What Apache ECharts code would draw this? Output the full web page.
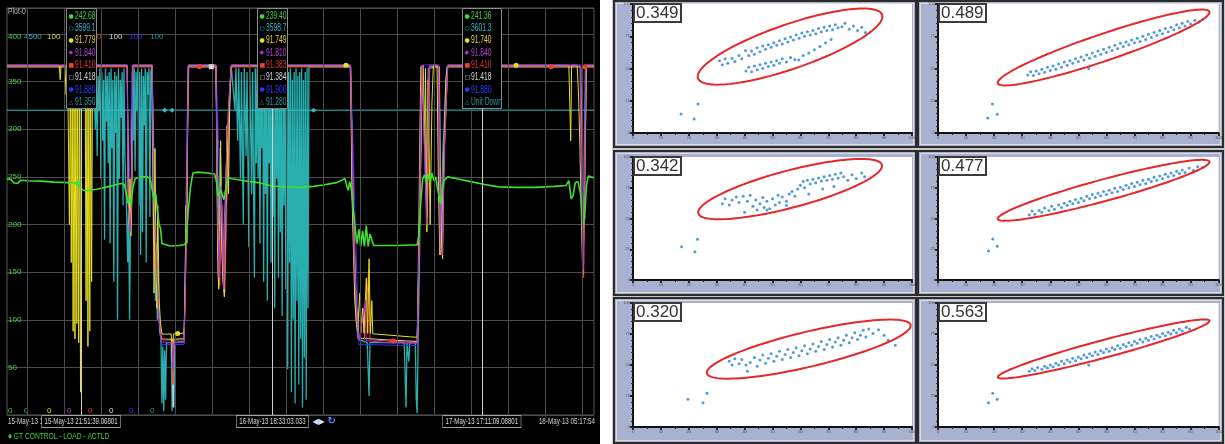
<!DOCTYPE html>
<html><head><meta charset="utf-8">
<script src="https://cdn.jsdelivr.net/npm/echarts@6/dist/echarts.min.js"></script>
<style>
html,body{margin:0;padding:0;background:#fff;}
#wrap{position:relative;width:1225px;height:444px;overflow:hidden;}
#left{position:absolute;left:0;top:0;width:600px;height:444px;}
#right{position:absolute;left:600px;top:0;width:625px;height:444px;}
</style></head><body>
<div id="wrap"><div id="left"></div><div id="right"></div></div>
<script>
// ===================== DATA: trend plot (x = hours since 15-May-13 00:00) =====================
const startHour = 13.85, endHour = 77.32;
const gridHours = [16,20,24,28,32,36,40,44,48,52,56,60,64,68,72,76];
const cursorHours = [21.86, 42.55, 65.19];
const cursorLabels = ['15-May-13 21:51:39.06801','16-May-13 18:33:03.033','17-May-13 17:11:09.08801'];
const startLabel = '15-May-13 1';
const endLabel = '18-May-13 05:17:54';
const plotTitle = 'Plot-0';
const legendLabel = 'GT CONTROL - LOAD - ACTLD';
const scaleMax = [400, 4500, 100, 100, 100, 100, 100, 100];
const boxSymbols = ['●','○','●','◆','■','□','●','△'];
const boxValues1 = ['242.68','3599.1','91.779','91.840','91.410','91.418','91.880','91.350'];
const boxValues2 = ['239.40','3598.7','91.749','91.810','91.383','91.384','91.900','91.280'];
const boxValues3 = ['241.36','3601.3','91.740','91.840','91.410','91.418','91.880','Unit Down'];

const loadActld = [[13.85,248],[14.3,247],[14.6,243.5],[15.0,243],[15.3,246.5],[16,246],[17.5,245.5],[19,244.5],[20.5,244],[21.4,243.5],[21.6,242],[21.8,238],[22.1,236],[22.5,235.5],[23.5,237],[24.5,239],[25.5,241.5],[26.2,243],[26.55,242],[26.8,230],[26.95,222],[27.1,228],[27.25,221],[27.45,238],[27.7,248],[28.3,250],[29.0,250],[29.35,248],[29.55,236],[29.75,227],[29.95,232],[30.1,215],[30.3,200],[30.45,196],[30.6,180],[30.8,178],[31.5,177.5],[32.5,178],[33.1,179],[33.25,185],[33.45,215],[33.7,240],[33.95,254],[34.5,255],[35.5,254],[36.3,253],[36.5,245],[36.65,230],[36.85,228],[37.0,236],[37.3,226],[37.55,240],[37.8,249],[38.2,248],[39.5,246],[41,244],[42.5,240.5],[44,239.5],[45.5,239],[47,240],[48,241.5],[49.5,244],[50.4,248],[50.6,240],[50.75,236],[50.9,245],[51.1,236],[51.3,215],[51.5,195],[51.7,180],[51.9,195],[52.1,177],[52.3,193],[52.5,177],[52.7,199],[52.9,177],[53.1,190],[53.5,178],[54.5,178],[56,178],[57.5,178.5],[58.2,178.5],[58.4,190],[58.6,225],[58.8,248],[59.0,252],[59.2,245],[59.4,253],[59.6,244],[59.8,254],[60.0,246],[60.2,250],[60.4,238],[60.6,228],[60.75,222],[60.9,235],[61.1,246],[61.5,250],[62.5,248],[64,245],[65.5,242],[67,239.5],[69,239],[71,239],[73,240],[74.3,241],[74.6,246],[74.85,227],[75.05,230],[75.3,244],[75.6,245],[75.9,230],[76.1,200],[76.3,206],[76.5,240],[76.7,251],[77.0,250],[77.32,249]];

const speedRef = [[13.85,3600],[21.86,3599],[30,3602],[42.55,3599],[55,3601],[65.19,3601],[77.32,3600]];

const yellowTrend = [[13.85,91.78],[19.5,91.78],[19.6,88],[19.7,91.78],[20.1,91.78],[20.25,84],[20.4,91.78],[20.5,91.5],[20.6,50],[20.7,91],[20.8,40],[20.9,90],[21.0,22],[21.1,91],[21.2,20],[21.3,89],[21.4,24],[21.5,91],[21.6,19],[21.7,90],[21.8,6],[21.9,91.5],[22.3,91.78],[22.4,30],[22.5,90],[22.6,18],[22.7,91],[22.8,22],[22.9,89],[23.0,35],[23.1,91.78],[26.85,91.78],[26.95,58],[27.05,50],[27.15,62],[27.25,47],[27.35,56],[27.45,91.78],[29.55,91.78],[29.65,62],[29.75,32],[29.85,70],[29.95,42],[30.05,28],[30.15,55],[30.3,30],[30.45,24],[30.6,21.3],[31.0,21.2],[31.6,21.3],[31.72,14],[31.85,21.2],[32.5,21.4],[33.0,21.5],[33.1,32],[33.2,55],[33.3,45],[33.4,80],[33.5,91.78],[36.45,91.78],[36.55,62],[36.65,38],[36.75,33],[36.85,52],[36.95,72],[37.05,46],[37.2,35],[37.35,31],[37.5,56],[37.65,76],[37.8,58],[37.95,86],[38.1,91.78],[50.95,91.78],[51.05,82],[51.15,58],[51.3,44],[51.45,30],[51.6,25],[51.75,22],[51.9,21.6],[52.0,32],[52.1,21.5],[52.3,28],[52.45,21.5],[52.7,36],[52.85,21.4],[53.0,41],[53.15,21.4],[53.3,30],[53.4,21.3],[54.5,21.1],[56.0,20.8],[57.5,20.5],[58.2,20.4],[58.3,34],[58.4,55],[58.5,75],[58.6,91.5],[58.85,91.78],[59.0,70],[59.1,91],[59.25,48],[59.4,88],[59.6,50],[59.8,82],[59.95,91.78],[60.35,91.78],[60.5,60],[60.65,42],[60.8,46],[60.95,41],[61.1,70],[61.3,88],[61.5,91.78],[74.6,91.78],[74.7,82],[74.8,72],[74.9,91.78],[75.5,91.78],[75.65,84],[75.8,70],[75.95,52],[76.1,37],[76.2,46],[76.35,72],[76.5,91.78],[77.32,91.78]];

const purpleTrend = [[13.85,91.84],[26.85,91.84],[26.95,55],[27.15,48],[27.35,58],[27.45,91.84],[29.55,91.84],[29.7,60],[29.9,45],[30.1,35],[30.3,25],[30.5,19.2],[31.7,19],[31.8,12],[31.9,19],[33.0,19],[33.15,35],[33.3,60],[33.45,91.84],[36.45,91.84],[36.6,55],[36.8,36],[37.0,60],[37.3,33],[37.6,70],[37.9,85],[38.1,91.84],[51.0,91.84],[51.2,65],[51.4,40],[51.7,25],[51.9,19.5],[52.6,30],[52.7,19.5],[55,19],[58.2,18.8],[58.4,45],[58.6,80],[58.75,91.84],[59.2,50],[59.5,91.84],[60.5,91.84],[60.7,44],[60.9,42],[61.2,75],[61.5,91.84],[75.8,91.84],[76.0,55],[76.15,38],[76.3,65],[76.45,91.84],[77.32,91.84]];

const redTrend = [[13.85,91.41],[26.85,91.41],[26.95,62],[27.1,50],[27.3,55],[27.45,91.41],[29.55,91.41],[29.75,50],[29.95,38],[30.15,30],[30.35,24],[30.55,19.8],[31.7,19.6],[31.8,8],[31.9,19.6],[33.0,19.8],[33.2,40],[33.35,70],[33.5,91.41],[36.45,91.41],[36.65,48],[36.85,34],[37.1,55],[37.4,32],[37.7,65],[38.0,88],[38.15,91.41],[51.0,91.41],[51.25,60],[51.5,35],[51.8,21],[52.0,19.8],[52.4,28],[52.5,19.8],[52.95,38],[53.1,19.8],[55,19.4],[58.2,19.0],[58.45,50],[58.65,85],[58.8,91.41],[59.3,52],[59.55,91.41],[60.55,91.41],[60.75,42],[60.95,46],[61.2,72],[61.5,91.41],[75.85,91.41],[76.05,50],[76.2,36],[76.35,60],[76.5,91.41],[77.32,91.41]];

const whiteTrend = [[13.85,91.42],[26.85,91.42],[27.0,58],[27.3,52],[27.45,91.42],[29.55,91.42],[29.8,48],[30.1,32],[30.4,22],[30.6,19.9],[31.75,19.9],[31.82,2],[31.9,19.9],[33.0,20],[33.25,50],[33.45,91.42],[36.45,91.42],[36.7,42],[37.0,55],[37.35,35],[37.8,75],[38.1,91.42],[51.0,91.42],[51.3,55],[51.6,30],[51.9,20.2],[55,19.7],[58.2,19.3],[58.5,55],[58.75,91.42],[59.3,54],[59.55,91.42],[60.6,91.42],[60.8,43],[61.1,68],[61.5,91.42],[75.85,91.42],[76.1,45],[76.3,58],[76.5,91.42],[77.32,91.42]];

const blueTrend = [[13.85,91.88],[26.85,91.88],[27.0,55],[27.4,91.88],[29.55,91.88],[30.0,40],[30.5,18.5],[33.0,18.5],[33.45,91.88],[36.45,91.88],[37.2,35],[38.1,91.88],[51.0,91.88],[51.9,18.5],[58.2,18.2],[58.75,91.88],[60.5,91.88],[60.7,45],[61.5,91.88],[75.85,91.88],[76.1,45],[76.5,91.88],[77.32,91.88]];

const tealUnitDown = [[13.85,91.35],[23.2,91.35],[23.3,91.3],[23.4,75],[23.5,90],[23.6,68],[23.7,89],[23.8,80],[23.9,91],[24.0,62],[24.1,90],[24.2,72],[24.3,88],[24.4,46],[24.5,91],[24.6,77],[24.7,89],[24.8,66],[24.9,90],[25.0,45],[25.1,91],[25.2,70],[25.3,88],[25.4,35],[25.5,90],[25.6,74],[25.7,89],[25.8,25],[25.9,91],[26.0,62],[26.1,88],[26.2,78],[26.3,90],[26.4,55],[26.5,91],[26.6,68],[26.7,60],[26.8,52],[26.9,40],[27.0,55],[27.1,25],[27.2,50],[27.3,58],[27.4,90],[27.5,72],[27.6,91],[27.7,64],[27.8,90],[27.9,80],[28.0,91],[28.1,55],[28.2,90],[28.3,42],[28.4,91],[28.5,48],[28.6,89],[28.7,76],[28.8,91],[28.9,40],[29.0,90],[29.1,84],[29.2,91],[29.3,52],[29.4,90],[29.5,91.3],[29.6,70],[29.7,45],[29.8,60],[29.9,30],[30.0,45],[30.1,25],[30.2,38],[30.35,22],[30.5,20],[30.6,3],[30.7,18],[30.8,1],[30.9,17],[31.0,4],[31.1,19],[31.6,19],[31.7,1],[31.8,18],[31.9,2],[32.0,19],[32.5,19.2],[33.0,19.3],[33.15,40],[33.3,70],[33.45,91.35],[36.45,91.35],[36.7,50],[36.9,70],[37.2,40],[37.5,60],[37.8,80],[38.1,91.35],[38.3,91.3],[38.5,80],[38.6,91],[38.8,72],[38.9,91],[39.1,62],[39.2,90],[39.4,50],[39.5,91],[39.7,68],[39.8,90],[40.0,44],[40.1,91],[40.3,58],[40.4,90],[40.6,36],[40.7,91],[40.8,66],[40.9,91],[41.0,62],[41.1,90],[41.2,45],[41.3,91],[41.4,70],[41.5,89],[41.6,35],[41.7,90],[41.8,58],[41.9,88],[42.0,30],[42.1,91],[42.2,66],[42.3,89],[42.4,40],[42.5,90],[42.6,52],[42.7,91],[42.8,28],[42.9,89],[43.0,62],[43.1,90],[43.2,36],[43.3,91],[43.4,48],[43.5,88],[43.6,26],[43.7,90],[43.8,55],[43.9,91],[44.0,33],[44.1,89],[44.2,12],[44.3,90],[44.4,40],[44.5,91],[44.6,6],[44.7,88],[44.8,25],[44.9,90],[45.0,3],[45.1,91],[45.2,30],[45.3,89],[45.4,8],[45.5,90],[45.6,20],[45.7,91],[45.8,2],[45.9,88],[46.0,15],[46.1,90],[46.2,4],[46.3,91],[46.4,28],[46.5,91.35],[51.0,91.35],[51.2,60],[51.4,40],[51.6,25],[51.8,20],[52.0,19.5],[52.8,19],[52.9,12],[53.0,5],[53.1,19],[55.0,19],[56.8,19],[56.9,10],[57.0,2],[57.1,19],[57.3,14],[57.4,19],[58.0,19],[58.1,4],[58.2,0.5],[58.3,19],[58.45,40],[58.6,70],[58.75,91.35],[59.2,55],[59.4,91],[60.5,91.35],[60.7,45],[61.0,70],[61.4,91.35],[75.9,91.35],[76.1,40],[76.4,91.35],[77.32,91.35]];

const redMarks = [[34.65,91.41],[55.6,19.4],[72.7,91.41],[76.35,91.41]];
const whiteMarks = [[35.94,91.42]];
const yellowMarks = [[32.3,21.4],[50.5,91.78],[68.9,91.78]];
const greenMarks = [[21.5,243]];
const cyanMarks = [[30.9,3600],[31.7,3600],[47.0,3600]];

// ===================== DATA: scatter panels =====================
const corrLabels = ['0.349','0.489','0.342','0.477','0.320','0.563'];
const scatter349 = [[17.2,14.7],[21.9,10.9],[23.3,22.5],[31,56],[32,53],[33,57.5],[34,54],[35.5,58],[36.5,55.5],[38,60],[39,57.5],[40.3,64],[41.5,60],[42.5,63.5],[43.5,61],[44.5,66],[45.5,63],[46.5,67.5],[47.5,65],[48.5,68.5],[49.5,66.5],[50.5,70],[51.5,68],[52.5,71.5],[53.5,69],[54.5,73],[55.5,70.5],[56.5,74.5],[57.5,72],[58.5,76],[59.5,73.5],[60.5,77.5],[61.5,75],[62.5,78.5],[63.5,76],[64.5,79.5],[65.5,77],[66.5,81],[67.5,78.5],[68.5,82],[69.5,79.5],[70.5,83],[71.5,80],[72.5,84],[73.5,81.5],[74.9,82.4],[76,85],[77.5,80.5],[79,83],[80.5,79.5],[82,82],[83.3,78],[40.5,48],[41.5,51],[42.5,47.5],[43.5,52],[44.5,49],[45.5,53],[46.5,50],[47.5,54],[48.5,51.5],[49.5,55],[50.5,52.5],[51.5,56],[52.5,54],[53.5,57.5],[55,55],[56.5,58.5],[58,57],[59.4,56.6],[61,60],[63,62],[65,64.5],[67,67],[69,70],[71,72.5]];
const scatter489 = [[19.4,22.5],[17.7,11.6],[21.1,14.5],[32,45],[33,47.5],[34,44.5],[35,48],[36,46],[37,49.5],[38,47],[39,51],[40,48.5],[41,52],[42,49.5],[43,53.5],[44,51],[45,55],[46,52.5],[47,56],[48,54],[49,57.5],[50,55.5],[51,59],[52,56.5],[53,60.5],[53.7,50],[54,58],[55,62],[56,59.5],[57,63.5],[58,61],[59,65],[60,62.5],[61,66.5],[62,64],[63,68],[64,65.5],[65,69.5],[66,67],[67,70.5],[68,68.5],[69,72],[70,70],[71,73.5],[72,71],[73,75],[74,72.5],[75,76.5],[76,74],[77,78],[78,75.5],[79,79.5],[80,77],[81,81],[82,78.5],[83,82],[84,80],[85,84],[86,81.5],[87,85],[88,83],[89,86.5],[90,84.5],[91.5,87.5],[93,86],[94.3,88]];
const scatter342 = [[17.4,27.1],[22.2,23.0],[23.1,33.1],[32,62],[33,66],[34.5,61],[35.5,65],[37,67.5],[38,63],[39.5,68],[41,64],[42,69],[43,60],[44,65],[44.5,57],[45.5,62],[46.5,67],[47,59],[48,64],[49,58],[50,66],[51,61],[52,69],[52.5,63],[53.5,67.5],[55,64],[56,70],[57,72],[58,68],[59,74],[60,77],[61,80],[61.5,75],[62.5,81],[63.5,78],[64.5,82],[65.5,79],[66.5,83],[67.5,80.5],[68.5,84],[69.5,81],[70.5,85],[71.5,82],[72.5,86],[73.5,83],[74.5,87],[75.5,84],[77,81],[78.5,85.5],[80,82.5],[82,87],[83,84],[40,55],[48,57],[55,60.5],[63,70],[68,74],[72,76]];
const scatter477 = [[18.0,23.6],[19.5,33.3],[21.1,27.4],[32.5,53],[33.5,56],[34.5,53.5],[36,56.5],[37,55],[38,58.5],[39.5,56.5],[40.5,60],[41.5,57.5],[43,61],[44,59],[45,62.5],[46,60.5],[47,64],[48,62],[49,65.5],[50,63],[51,66.5],[52,64.5],[53,68],[54,66],[55,69.5],[56,67],[57,70.5],[58,68.5],[59,72],[60,69.5],[61,73],[62,71],[63,74.5],[64,72],[65,75.5],[66,73.5],[67,77],[68,75],[69,78.5],[70,76],[71,79.5],[72,77.5],[73,81],[74,78.5],[75,82],[76,80],[77,83.5],[78,81],[79,84.5],[80,82.5],[81,86],[82,84],[83,87],[84,85],[85,88.5],[86,86.5],[87,89.5],[88,87.5],[89.5,91],[91,89],[92.5,92],[94.3,91.5]];
const scatter320 = [[19.7,22.3],[25.1,19.6],[26.5,27.2],[34.5,53],[35.5,50],[36.5,55],[38,51],[39,54.5],[40.5,50],[41,45],[42,52],[43.5,56],[44.5,49],[45.5,54],[46.5,58],[47.5,51.5],[48.5,55.5],[49.5,59],[50.5,53],[51.5,57],[52.5,61],[53.5,54.5],[54.5,58.5],[55.5,62.5],[56.5,56],[57.5,60],[58.5,64],[59.5,57.5],[60.5,61.5],[61.5,65.5],[62.5,59],[63.5,63],[64.5,67],[65.5,61],[66.5,65],[67.5,69],[68.5,62.5],[69.5,66.5],[70.5,70.5],[71.5,64.5],[72.5,68.5],[73.5,72],[74.5,66],[75.5,70],[76.5,74],[77.5,68],[78.5,72],[79.5,76],[80.5,70.5],[81.5,74],[82.5,78],[83.5,72.5],[84.5,79],[86,75.5],[88,78.5],[90,74],[91.5,70],[94,66]];
const scatter563 = [[18.0,19.6],[19.5,27.2],[21.1,22.3],[32.5,45],[33.5,47],[34.5,45.5],[35.5,48],[37,46.5],[38,49],[39,47.5],[40,50],[41,48.5],[42,51.5],[43,50],[44,53],[45,51],[46,54],[47,52.5],[48,55.5],[49,53.5],[50,56.5],[51,55],[52,58],[53,56],[53.7,50],[54,59],[55,57.5],[56,60.5],[57,58.5],[58,61.5],[59,60],[60,63],[61,61],[62,64],[63,62.5],[64,65.5],[65,63.5],[66,66.5],[67,65],[68,68],[69,66],[70,69],[71,67.5],[72,70.5],[73,68.5],[74,71.5],[75,70],[76,73],[77,71],[78,74],[79,72.5],[80,75.5],[81,73.5],[82,76.5],[83,75],[84,78],[85,76],[86,79],[87,77.5],[88.5,80.5],[89.6,79]];
// ellipse: [centerX, centerY, majorHalfX, majorHalfY, minorHalfX, minorHalfY] in data units
const ellipse349 = [56.3, 67.0, 33.0, 24.6, 2.6, -16.3];
const ellipse489 = [59.0, 66.3, 37.7, 27.7, 1.5, -9.9];
const ellipse342 = [56.3, 73.9, 32.9, 19.7, 1.7, -14.6];
const ellipse477 = [59.0, 72.9, 37.7, 23.3, 1.0, -8.5];
const ellipse320 = [63.0, 62.8, 36.5, 19.5, 1.5, -13.7];
const ellipse563 = [59.0, 62.9, 37.7, 22.8, 0.8, -6.9];

// ===================== LEFT CHART =====================
const NARROW = "'Liberation Sans Narrow','Arial Narrow','Liberation Sans',sans-serif";
const leftChart = echarts.init(document.getElementById('left'), null, {renderer:'canvas'});
const lineColors = ['#3fe030','#2fc0c8','#e8e020','#b030d8','#f04028','#d8d8d8','#2838f0','#2aafaf'];
const labelColors = ['#3fd23f','#34b8c8','#e6d830','#b040d0','#e03030','#d8d8d8','#2a3cff','#2a9a9a'];
const labelX = [8, 24, 47, 67, 88, 109, 129, 150];
const topRatio = 427.3 / 400;

const yAxes = scaleMax.map((m, i) => ({
  type:'value', min:0, max:m*topRatio, interval: i===0 ? 50 : m,
  position:'left', offset: 7 - labelX[i],
  axisLine:{show:false}, axisTick:{show:false},
  splitLine:{show: i===0, lineStyle:{color:'#4c4c4c', width:1}},
  axisLabel:{
    inside:true, margin:0, color:labelColors[i], fontSize:8, fontFamily:NARROW,
    formatter: v => v===0 ? '{lo|0}' : (v===m ? '{hi|'+m+'}' : (i===0 && v<m ? String(v) : '')),
    rich:{
      lo:{padding:[0,0,9,0], color:labelColors[i], fontSize:8, fontFamily:NARROW},
      hi:{padding:[5,0,0,0], color:labelColors[i], fontSize:8, fontFamily:NARROW}
    }
  }
}));

function trend(name, data, color, axis, width, z, marks, markSymbol) {
  const s = {
    name, type:'line', data, xAxisIndex:0, yAxisIndex:axis, showSymbol:false, symbol:'none',
    lineStyle:{color, width}, itemStyle:{color}, z, animation:false, silent:true
  };
  if (marks) s.markPoint = {symbol: markSymbol || 'circle', symbolSize:5, silent:true, label:{show:false},
    itemStyle:{color}, data: marks.map(c => ({coord:c}))};
  return s;
}

leftChart.setOption({
  backgroundColor:'#000',
  animation:false,
  grid:{left:7, right:6, top:8, bottom:29, show:true, borderColor:'#5a5a5a', borderWidth:1, backgroundColor:'transparent'},
  xAxis:{type:'value', min:startHour, max:endHour, show:false},
  yAxis: yAxes,
  series:[
    {type:'line', data:[], z:1, silent:true, markLine:{silent:true, symbol:'none', label:{show:false},
      lineStyle:{color:'#4c4c4c', width:1, type:'solid'}, data: gridHours.map(h => ({xAxis:h}))}},
    trend('Unit Down', tealUnitDown, lineColors[7], 7, 1.3, 2),
    trend('Speed', speedRef, lineColors[1], 1, 1, 2, cyanMarks, 'diamond'),
    trend('S7', blueTrend, lineColors[6], 6, 1, 2),
    trend('S6', whiteTrend, lineColors[5], 5, 1, 3, whiteMarks, 'rect'),
    trend('S5', redTrend, lineColors[4], 4, 1, 3, redMarks),
    trend('S3', yellowTrend, lineColors[2], 2, 1, 3, yellowMarks),
    trend('S4', purpleTrend, lineColors[3], 3, 1, 3),
    trend(legendLabel, loadActld, lineColors[0], 0, 1.6, 4, greenMarks),
    {type:'line', data:[], z:6, silent:true, markLine:{silent:true, symbol:'none', label:{show:false},
      lineStyle:{color:'#cfcfcf', width:1, type:'solid'}, data: cursorHours.map(h => ({xAxis:h}))}}
  ]
});

(function addLeftGraphics(){
  const g = [];
  const txt = (x, y, text, fill, size, sx, align, extra) => ({
    type:'text', x, y, z:100, scaleX:sx,
    style:Object.assign({text, fill, font: size+'px '+NARROW, align: align||'left', textAlign: align||'left',
      verticalAlign:'middle', textVerticalAlign:'middle'}, extra||{})
  });
  g.push(txt(8, 12, plotTitle, '#bdbdbd', 9, 0.76));
  const boxW = [30, 30, 39];
  const boxes = [boxValues1, boxValues2, boxValues3];
  cursorHours.forEach((h, k) => {
    const cx = leftChart.convertToPixel({xAxisIndex:0}, h);
    const x0 = Math.round(cx - boxW[k]/2) + 0.5;
    g.push({type:'rect', z:99, shape:{x:x0, y:8.5, width:boxW[k], height:100},
      style:{fill:'#000', stroke:'#8c8c8c', lineWidth:1}});
    boxes[k].forEach((val, r) => {
      const y = 16 + r*12.3;
      g.push({type:'text', x:x0+2, y, z:100, style:{text:boxSymbols[r], fill:lineColors[r], font:'6px DejaVu Sans',
        verticalAlign:'middle', textVerticalAlign:'middle'}});
      g.push(txt(x0+8.5, y, val, labelColors[r], 10, 0.67));
    });
    g.push(txt(cx, 421.5, cursorLabels[k], '#dcdcdc', 9.5, 0.64, 'center',
      {backgroundColor:'#000', borderColor:'#a0a0a0', borderWidth:1, padding:[1,4,0,4]}));
    if (k === 1) {
      g.push({type:'text', x:cx+40, y:421.5, z:100, style:{text:'◀▶', fill:'#d8e4ff', font:'8px DejaVu Sans',
        verticalAlign:'middle', textVerticalAlign:'middle'}});
      g.push({type:'text', x:cx+55, y:421.5, z:100, style:{text:'↻', fill:'#4f8cff', font:'bold 10px DejaVu Sans',
        verticalAlign:'middle', textVerticalAlign:'middle'}});
    }
  });
  g.unshift(txt(8, 421.5, startLabel, '#d0d0d0', 9.5, 0.66));
  g.push(txt(595, 421.5, endLabel, '#d0d0d0', 9.5, 0.66, 'right'));
  g.push(txt(8, 436, '● ' + legendLabel, '#3fd23f', 9.5, 0.7));
  leftChart.setOption({graphic:g});
})();

// ===================== RIGHT CHART =====================
const rightChart = echarts.init(document.getElementById('right'), null, {renderer:'canvas'});
const scatterSets = [scatter349, scatter489, scatter342, scatter477, scatter320, scatter563];
const ellipses = [ellipse349, ellipse489, ellipse342, ellipse477, ellipse320, ellipse563];
const gridBoxes = [
  {left:33, top:4, width:279, height:129},
  {left:338, top:4, width:283, height:129},
  {left:33, top:157, width:279, height:123},
  {left:338, top:157, width:283, height:123},
  {left:33, top:303, width:279, height:124},
  {left:338, top:303, width:283, height:124}
];
const cells = [[14,1,302,146],[318,1,305,146],[14,151,302,144],[318,151,305,144],[14,298,302,145],[318,298,305,145]];

const rxAxes = [], ryAxes = [], rSeries = [];
gridBoxes.forEach((gb, i) => {
  rxAxes.push({gridIndex:i, type:'value', min:0, max:100, interval:10,
    axisLine:{lineStyle:{color:'#111', width:2}}, axisTick:{length:3, lineStyle:{color:'#111', width:1.5}},
    minorTick:{show:true, splitNumber:2, length:2, lineStyle:{color:'#222'}},
    axisLabel:{fontSize:4, color:'#555', margin:3}, splitLine:{show:false}});
  rxAxes.push({gridIndex:i, type:'value', position:'top', min:0, max:100, interval:10,
    axisLine:{show:false}, axisTick:{inside:true, length:3, lineStyle:{color:'#222', width:1.5}},
    axisLabel:{show:false}, splitLine:{show:false}});
  ryAxes.push({gridIndex:i, type:'value', min:0, max:100, interval:25,
    axisLine:{lineStyle:{color:'#111', width:2}}, axisTick:{length:3, lineStyle:{color:'#111', width:1.5}},
    minorTick:{show:true, splitNumber:5, length:2, lineStyle:{color:'#222'}},
    axisLabel:{fontSize:4, color:'#555', margin:3}, splitLine:{show:false}});
  ryAxes.push({gridIndex:i, type:'value', position:'right', min:0, max:100, interval:25,
    axisLine:{show:false}, axisTick:{inside:true, length:3, lineStyle:{color:'#222', width:1.5}},
    minorTick:{show:true, splitNumber:5, length:2, lineStyle:{color:'#333'}},
    axisLabel:{show:false}, splitLine:{show:false}});
  rSeries.push({type:'scatter', xAxisIndex:2*i, yAxisIndex:2*i, data:scatterSets[i], symbolSize:3,
    itemStyle:{color:'#3f8fd4', opacity:0.9}, silent:true, z:3});
  rSeries.push({type:'custom', xAxisIndex:2*i, yAxisIndex:2*i, data:[ellipses[i]], silent:true, z:4,
    renderItem:(params, api) => {
      const cx = api.value(0), cy = api.value(1);
      const c = api.coord([cx, cy]);
      const pu = api.coord([cx + api.value(2), cy + api.value(3)]);
      const pv = api.coord([cx + api.value(4), cy + api.value(5)]);
      const du = [pu[0]-c[0], pu[1]-c[1]], dv = [pv[0]-c[0], pv[1]-c[1]];
      const pts = [];
      for (let k = 0; k < 120; k++) {
        const t = k / 120 * Math.PI * 2;
        pts.push([c[0] + Math.cos(t)*du[0] + Math.sin(t)*dv[0], c[1] + Math.cos(t)*du[1] + Math.sin(t)*dv[1]]);
      }
      return {type:'polygon', shape:{points:pts}, style:{fill:'none', stroke:'#e5282c', lineWidth:2}};
    }});
});

const rGraphics = [{type:'rect', z:-20, shape:{x:12, y:0, width:613, height:444}, style:{fill:'#c8c8c8'}}];
cells.forEach(c => {
  rGraphics.push({type:'rect', z:-15, shape:{x:c[0], y:c[1], width:c[2], height:c[3]},
    style:{fill:'#a8b2d0', stroke:'#2c2c2c', lineWidth:2}});
  rGraphics.push({type:'rect', z:-14, shape:{x:c[0]+2.5, y:c[1]+2.5, width:c[2]-5, height:c[3]-5},
    style:{fill:'none', stroke:'#dcdcdc', lineWidth:1}});
});

rightChart.setOption({
  backgroundColor:'#fff',
  animation:false,
  graphic: rGraphics,
  title: corrLabels.map((t, i) => ({
    text:t, left:gridBoxes[i].left + 1, top:gridBoxes[i].top, padding:[1,3,0,2],
    backgroundColor:'#fff', borderColor:'#3a3a3a', borderWidth:2,
    textStyle:{fontSize:17, fontWeight:'normal', color:'#333', fontFamily:"'Liberation Sans',Arial,sans-serif"}
  })),
  grid: gridBoxes.map(gb => Object.assign({show:true, backgroundColor:'#fff', borderWidth:0}, gb)),
  xAxis: rxAxes,
  yAxis: ryAxes,
  series: rSeries
});
</script>
</body></html>
